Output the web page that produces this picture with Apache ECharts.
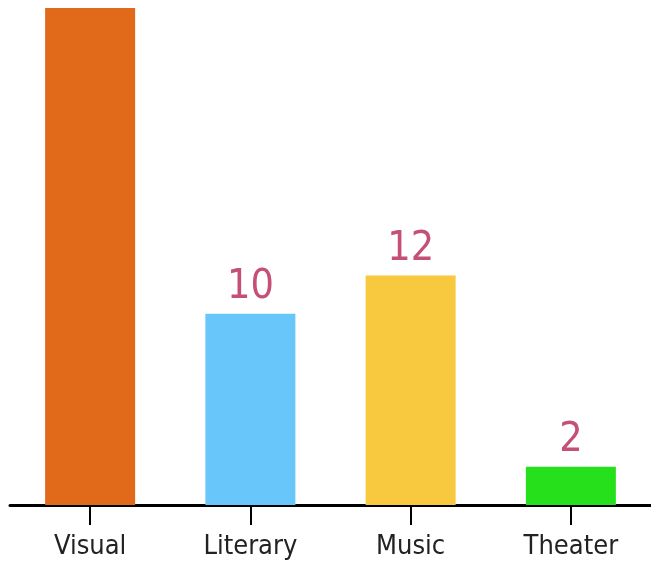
<!DOCTYPE html>
<html><head><meta charset="utf-8">
<script src="https://cdn.jsdelivr.net/npm/echarts@6/dist/echarts.min.js"></script>
<style>html,body{margin:0;padding:0;background:#fff}#c{width:651px;height:565px}</style>
</head><body><div id="c"></div>
<script>
const categories = ['Visual', 'Literary', 'Music', 'Theater'];
const values = [26, 10, 12, 2];
const barColors = ['#E0691A', '#68C6FA', '#F8C83F', '#26E01B'];
const FONT = '"DejaVu Sans Condensed", "Liberation Sans Narrow", "Roboto Condensed", Roboto, sans-serif';

const chart = echarts.init(document.getElementById('c'), null, {renderer: 'canvas'});
chart.setOption({
  animation: false,
  grid: {left: 10, right: -4, top: 8, bottom: 60, containLabel: false},
  xAxis: {
    type: 'category',
    data: categories,
    axisLine: {show: true, lineStyle: {color: '#000', width: 3}},
    axisTick: {show: true, alignWithLabel: true, length: 20, lineStyle: {color: '#000', width: 2}},
    axisLabel: {color: '#222', fontFamily: FONT, fontSize: 27, margin: 28}
  },
  yAxis: {type: 'value', min: 0, max: 26, show: false, splitLine: {show: false}},
  series: [{
    type: 'bar',
    barWidth: 90,
    data: values.map((v, i) => ({value: v, itemStyle: {color: barColors[i]}})),
    label: {show: true, position: 'top', distance: 6, color: '#C4507A',
      fontFamily: FONT, fontSize: 41}
  }]
});
</script></body></html>
